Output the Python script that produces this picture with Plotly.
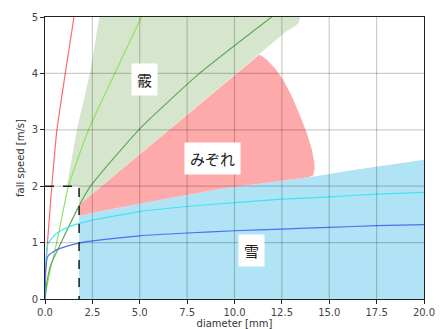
import plotly.graph_objects as go

# ---- data ----
xticks = [0, 2.5, 5, 7.5, 10, 12.5, 15, 17.5, 20]
xtick_labels = ["0.0", "2.5", "5.0", "7.5", "10.0", "12.5", "15.0", "17.5", "20.0"]
yticks = [0, 1, 2, 3, 4, 5]

# snow region (雪): upper boundary, bottom at 0
snow_x = [1.8, 2.5, 5.2, 9.2, 14.2, 16.1, 20.0]
snow_top = [1.47, 1.53, 1.70, 1.95, 2.17, 2.28, 2.47]

# sleet region (みぞれ)
sleet_x = [1.8, 2.5, 5.2, 9.2, 13.9, 14.15, 14.22, 14.22, 14.08, 13.82, 13.47,
           13.03, 12.58, 12.14, 11.70, 11.45, 11.3, 1.8]
sleet_y = [1.47, 1.53, 1.70, 1.95, 2.16, 2.19, 2.30, 2.41, 2.65, 2.94, 3.24,
           3.59, 3.88, 4.09, 4.24, 4.31, 4.33, 1.67]

# graupel region (霰)
graupel_x = [1.15, 1.8, 1.8, 12.76, 13.03, 13.38, 13.47, 2.87, 2.37, 1.68, 1.15]
graupel_y = [2.0, 2.0, 1.67, 4.75, 4.80, 4.89, 5.0, 5.0, 4.0, 3.0, 2.0]

# curves
red_x = [0, 0.04, 0.13, 0.36, 0.63, 1.07, 1.53]
red_y = [0, 0.5, 1.0, 2.0, 3.0, 4.0, 5.0]

lightgreen_x = [0, 0.1, 0.3, 0.62, 1.24, 2.30, 3.68, 5.09]
lightgreen_y = [0, 0.22, 0.55, 1.0, 2.0, 3.0, 4.0, 5.0]

darkgreen_x = [0, 0.1, 0.3, 0.85, 1.75, 2.4, 4.95, 8.15, 11.96]
darkgreen_y = [0, 0.3, 0.6, 1.0, 1.62, 2.0, 3.0, 4.0, 5.0]

cyan_x = [0, 0.03, 0.14, 0.5, 1.0, 1.8, 2.5, 5, 7.5, 10, 12.5, 15, 17.5, 20]
cyan_y = [0, 0.6, 0.97, 1.13, 1.24, 1.34, 1.40, 1.55, 1.64, 1.71, 1.77, 1.81, 1.86, 1.89]

blue_x = [0, 0.02, 0.14, 0.5, 1.0, 1.8, 2.5, 5, 7.5, 10, 12.5, 15, 17.5, 20]
blue_y = [0, 0.45, 0.75, 0.85, 0.92, 0.99, 1.03, 1.12, 1.17, 1.21, 1.24, 1.27, 1.30, 1.32]

dash_x = [0, 1.8, 1.8]
dash_y = [2, 2, 0]

labels = ["霰", "みぞれ", "雪"]
label_x = [5.26, 8.86, 10.89]
label_y = [3.90, 2.49, 0.86]

# ---- figure ----
fig = go.Figure()

fig.add_trace(go.Scatter(
    x=snow_x + snow_x[::-1], y=snow_top + [0] * len(snow_x),
    fill="toself", fillcolor="#b0e3f5", line=dict(width=0), mode="lines",
    hoverinfo="skip", showlegend=False))
fig.add_trace(go.Scatter(
    x=sleet_x, y=sleet_y, fill="toself", fillcolor="#ffaaaa",
    line=dict(width=0), mode="lines", hoverinfo="skip", showlegend=False))
fig.add_trace(go.Scatter(
    x=graupel_x, y=graupel_y, fill="toself", fillcolor="#d6e6cc",
    line=dict(width=0), mode="lines", hoverinfo="skip", showlegend=False))

line_specs = [
    (red_x, red_y, "#ff6a6a"),
    (lightgreen_x, lightgreen_y, "#8fe35f"),
    (darkgreen_x, darkgreen_y, "#5faa5f"),
    (cyan_x, cyan_y, "#3fe6f2"),
    (blue_x, blue_y, "#4f6ef2"),
]
for xs, ys, c in line_specs:
    fig.add_trace(go.Scatter(x=xs, y=ys, mode="lines",
                             line=dict(color=c, width=1.2, shape="spline", smoothing=0.5),
                             hoverinfo="skip", showlegend=False))

fig.add_trace(go.Scatter(x=dash_x, y=dash_y, mode="lines",
                         line=dict(color="#1a2a30", width=1.6, dash="dash"),
                         hoverinfo="skip", showlegend=False))

shapes = []
for xv in xticks[1:-1]:
    shapes.append(dict(type="line", xref="x", yref="paper", x0=xv, x1=xv, y0=0, y1=1,
                       line=dict(color="rgba(0,0,0,0.2)", width=1.2), layer="above"))
for yv in yticks[1:-1]:
    shapes.append(dict(type="line", xref="paper", yref="y", x0=0, x1=1, y0=yv, y1=yv,
                       line=dict(color="rgba(0,0,0,0.2)", width=1.2), layer="above"))

annotations = []
for t, xv, yv in zip(labels, label_x, label_y):
    annotations.append(dict(x=xv, y=yv, xref="x", yref="y", text=t, showarrow=False,
                            bgcolor="white", borderpad=5,
                            font=dict(family="Noto Sans CJK JP", size=15, color="#222")))

tickfont = dict(family="DejaVu Sans", size=10, color="#444")
titlefont = dict(family="DejaVu Sans", size=10, color="#333")
fig.update_layout(
    width=440, height=329, autosize=False,
    margin=dict(l=45, r=16, t=17, b=30),
    paper_bgcolor="white", plot_bgcolor="white",
    shapes=shapes, annotations=annotations,
    xaxis=dict(range=[0, 20], tickvals=xticks, ticktext=xtick_labels, showgrid=False,
               automargin=False,
               zeroline=False, showline=True, linecolor="#222", linewidth=1, mirror=True,
               ticks="outside", ticklen=4, tickcolor="#222", tickfont=tickfont,
               title=dict(text="diameter [mm]", font=titlefont, standoff=9)),
    yaxis=dict(range=[0, 5], tickvals=yticks, showgrid=False,
               automargin=False,
               zeroline=False, showline=True, linecolor="#222", linewidth=1, mirror=True,
               ticks="outside", ticklen=4, tickcolor="#222", tickfont=tickfont,
               title=dict(text="fall speed [m/s]", font=titlefont, standoff=5)),
)

fig.write_html("out.html")
